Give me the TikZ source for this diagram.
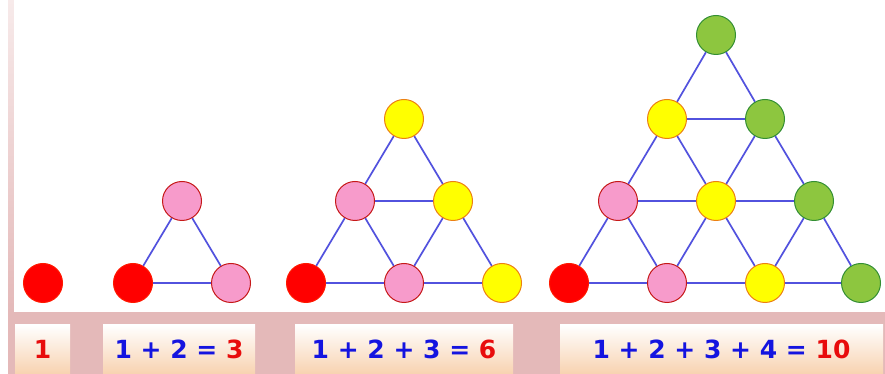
\documentclass[tikz,border=0pt]{standalone}
\usepackage{fontspec}
\setmainfont{DejaVu Sans}
\usepackage{xcolor}
\usepackage{tikz}
\usetikzlibrary{positioning,calc}
\definecolor{frame}{HTML}{E4B9B9}
\definecolor{peach}{HTML}{F8D2B0}
\definecolor{edgeblue}{HTML}{5252DE}
\definecolor{numblue}{HTML}{1414E0}
\definecolor{numred}{HTML}{E80C0C}
\definecolor{ballred}{HTML}{FF0000}
\definecolor{ballpink}{HTML}{F79BCB}
\definecolor{ballyellow}{HTML}{FFFF00}
\definecolor{ballgreen}{HTML}{8DC63F}

\begin{document}
\begin{tikzpicture}[
    x=1pt, y=1pt,
    ball/.style={circle, minimum size=39pt, inner sep=0pt, line width=1pt},
    redball/.style={ball, fill=ballred, draw=ballred!80!orange},
    pinkball/.style={ball, fill=ballpink, draw=red!75!black!90},
    yellowball/.style={ball, fill=ballyellow, draw=orange!70!brown},
    greenball/.style={ball, fill=ballgreen, draw=green!45!black!80},
    edge/.style={line width=1.7pt, draw=edgeblue},
    sumbox/.style={fill, top color=white, bottom color=peach, minimum height=49pt, inner sep=0pt, font=\bfseries\fontsize{25}{30}\selectfont}
]
    % frame and panel
    \fill[white] (0,0) rectangle (885,374);
    \fill[frame] (8,0) rectangle (885,62);
    \shade[top color=frame!30, bottom color=frame] (8,62) rectangle (14,374);
    \fill[white] (14,62) rectangle (885,374);

    % 1
    \node[redball] (a1) at (43,91) {};

    % 1 + 2
    \node[redball] (b1) at (133,91) {};
    \node[pinkball] (b2) at (231,91) {};
    \node[pinkball] (b3) at (182,173) {};

    \draw[edge] (b1) -- (b2);
    \draw[edge] (b1) -- (b3);
    \draw[edge] (b2) -- (b3);

    % 1 + 2 + 3
    \node[redball] (c1) at (306,91) {};
    \node[pinkball] (c2) at (404,91) {};
    \node[yellowball] (c3) at (502,91) {};
    \node[pinkball] (c4) at (355,173) {};
    \node[yellowball] (c5) at (453,173) {};
    \node[yellowball] (c6) at (404,255) {};

    \draw[edge] (c1) -- (c2);
    \draw[edge] (c2) -- (c3);
    \draw[edge] (c4) -- (c5);
    \draw[edge] (c1) -- (c4);
    \draw[edge] (c2) -- (c5);
    \draw[edge] (c4) -- (c6);
    \draw[edge] (c2) -- (c4);
    \draw[edge] (c3) -- (c5);
    \draw[edge] (c5) -- (c6);

    % 1 + 2 + 3 + 4
    \node[redball] (d1) at (569,91) {};
    \node[pinkball] (d2) at (667,91) {};
    \node[yellowball] (d3) at (765,91) {};
    \node[greenball] (d4) at (861,91) {};
    \node[pinkball] (d5) at (618,173) {};
    \node[yellowball] (d6) at (716,173) {};
    \node[greenball] (d7) at (814,173) {};
    \node[yellowball] (d8) at (667,255) {};
    \node[greenball] (d9) at (765,255) {};
    \node[greenball] (d10) at (716,339) {};

    \draw[edge] (d1) -- (d2);
    \draw[edge] (d2) -- (d3);
    \draw[edge] (d3) -- (d4);
    \draw[edge] (d5) -- (d6);
    \draw[edge] (d6) -- (d7);
    \draw[edge] (d8) -- (d9);
    \draw[edge] (d1) -- (d5);
    \draw[edge] (d2) -- (d6);
    \draw[edge] (d3) -- (d7);
    \draw[edge] (d5) -- (d8);
    \draw[edge] (d6) -- (d9);
    \draw[edge] (d8) -- (d10);
    \draw[edge] (d2) -- (d5);
    \draw[edge] (d3) -- (d6);
    \draw[edge] (d4) -- (d7);
    \draw[edge] (d6) -- (d8);
    \draw[edge] (d7) -- (d9);
    \draw[edge] (d9) -- (d10);

    % sums
    \node[sumbox, minimum width=55pt] (sum1) at (42.5,24.5) {\color{numred}1};
    \node[sumbox, minimum width=152pt] (sum2) at (179,24.5) {\color{numblue}1 + 2 = \color{numred}3};
    \node[sumbox, minimum width=218pt] (sum3) at (404,24.5) {\color{numblue}1 + 2 + 3 = \color{numred}6};
    \node[sumbox, minimum width=323pt] (sum4) at (721.5,24.5) {\color{numblue}1 + 2 + 3 + 4 = \color{numred}10};
\end{tikzpicture}
\end{document}
